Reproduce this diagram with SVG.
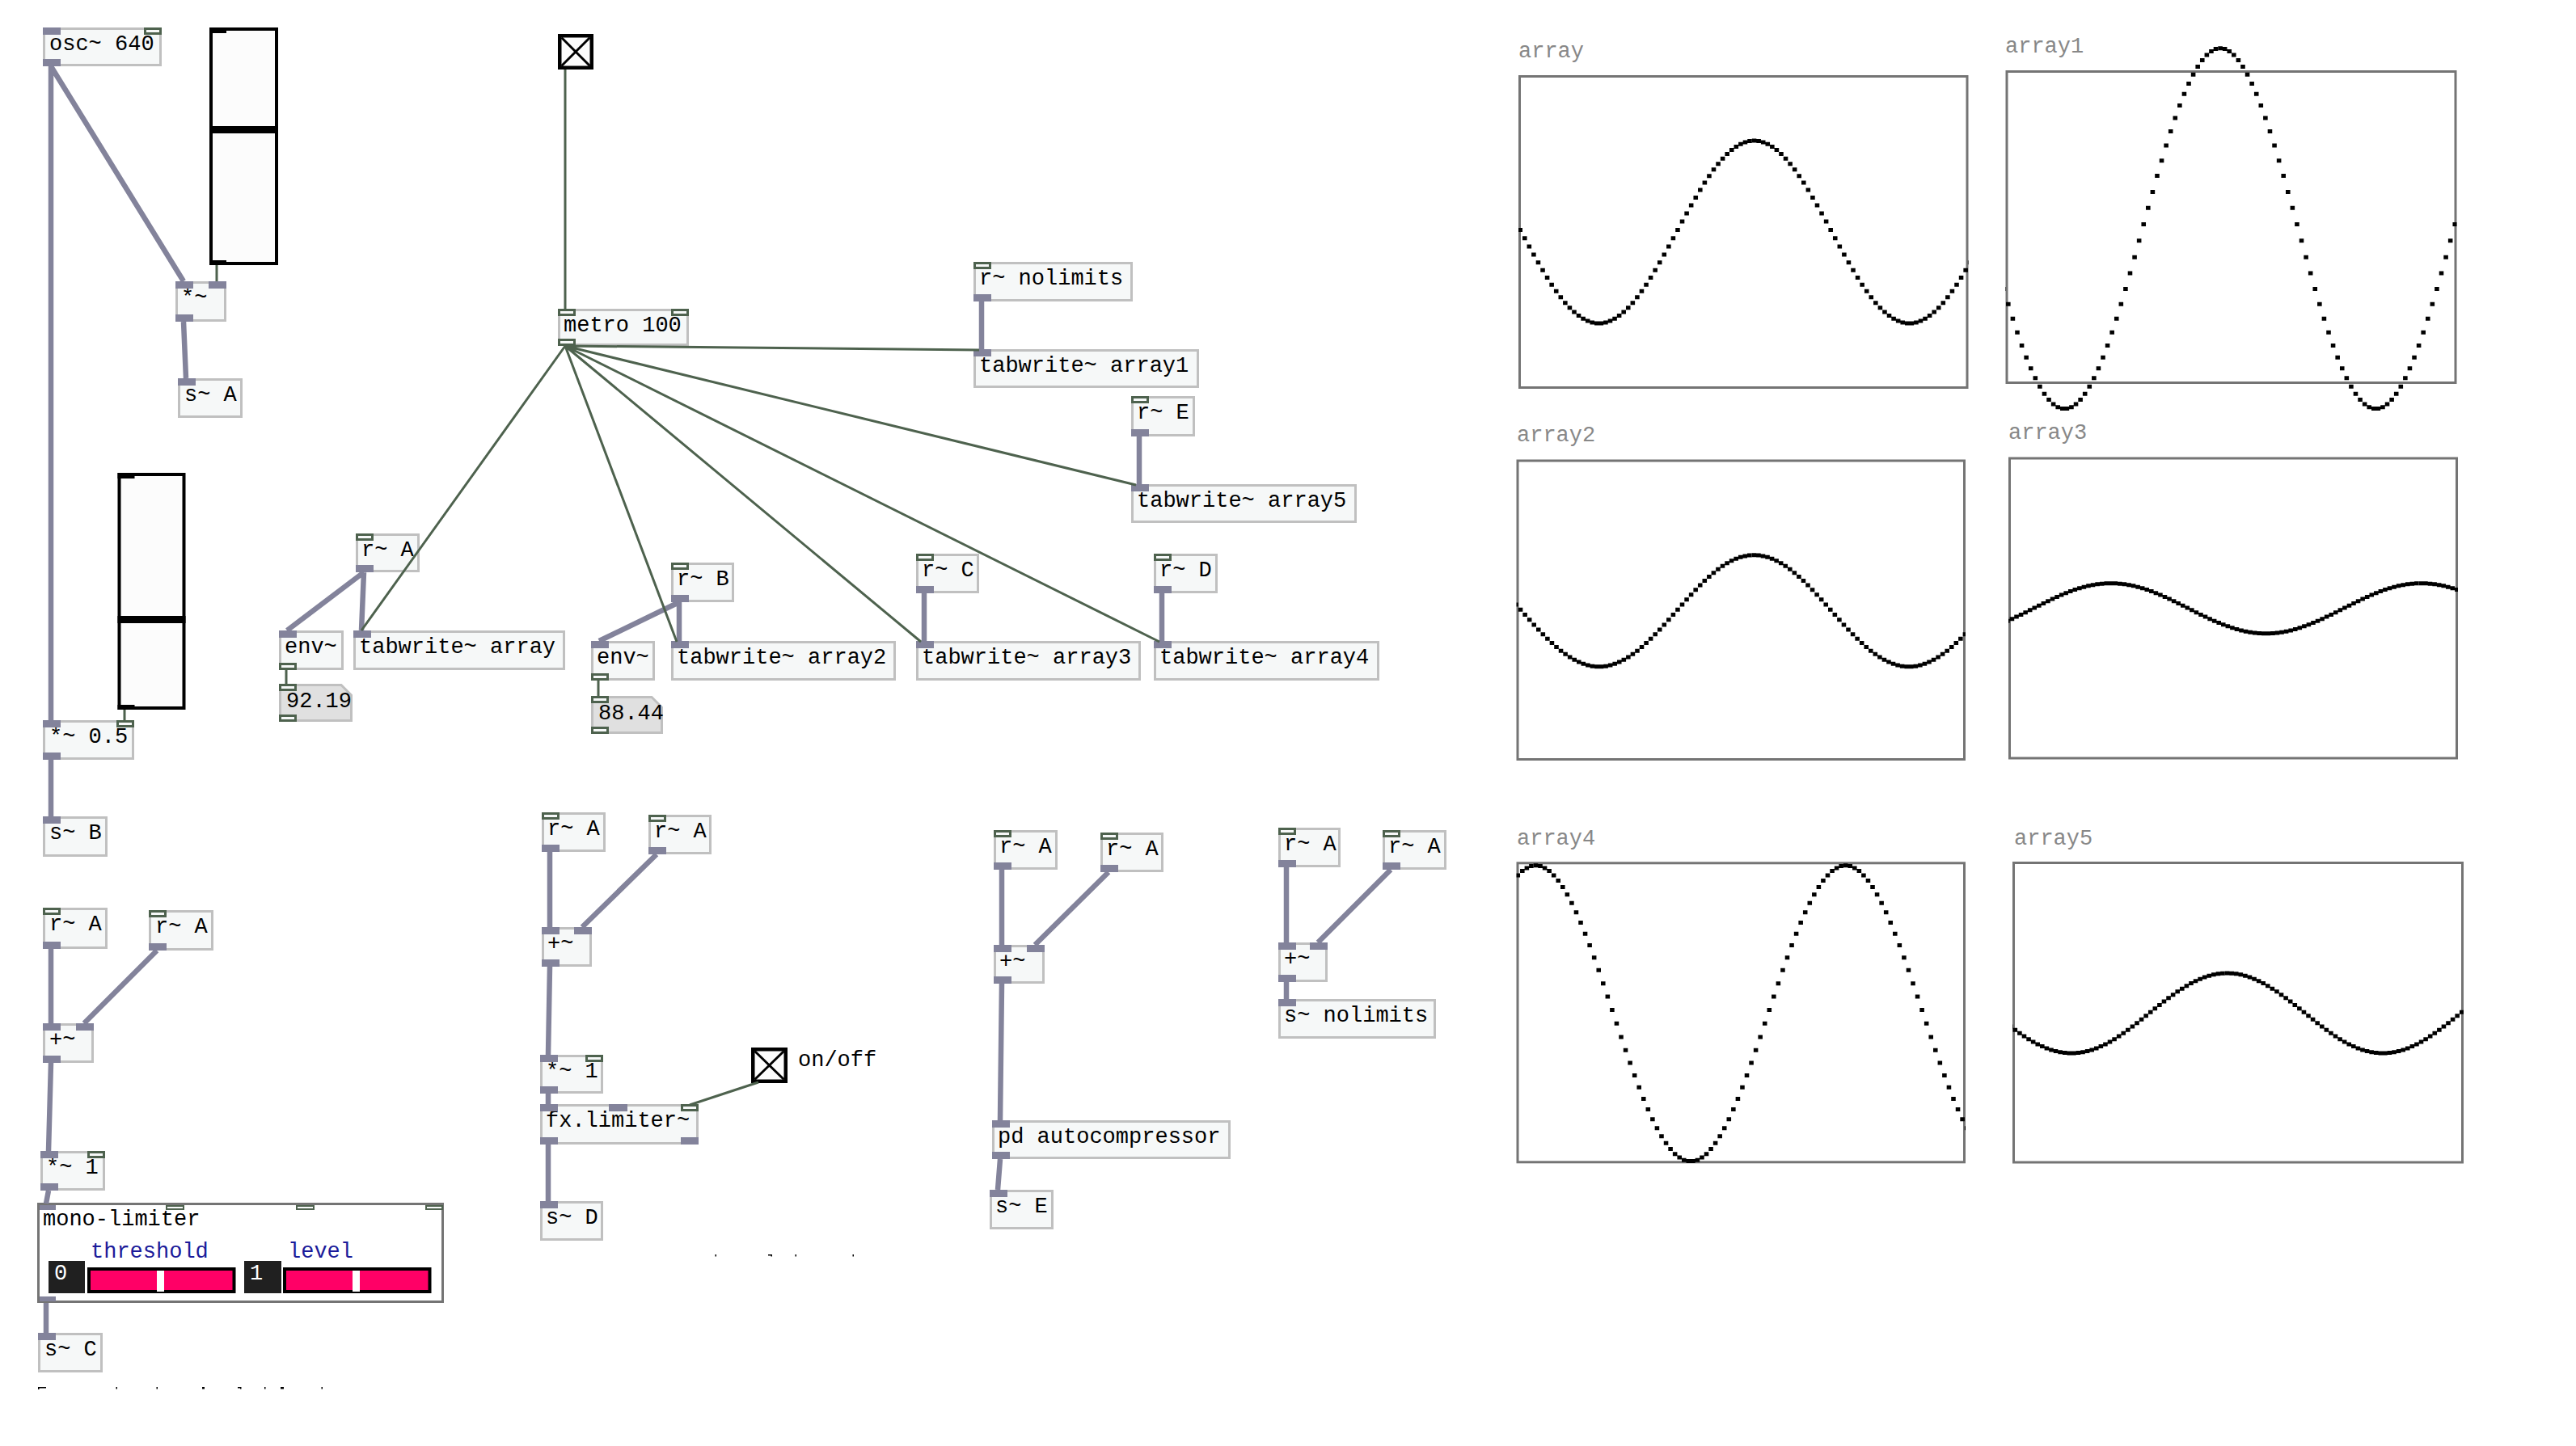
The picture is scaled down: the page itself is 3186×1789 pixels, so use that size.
<svg xmlns="http://www.w3.org/2000/svg" xmlns:xlink="http://www.w3.org/1999/xlink" width="3186" height="1789" viewBox="0 0 3186 1789">
<style>
.b{fill:#f6f8f8;stroke:#c0c0c0;stroke-width:3}
.n{fill:#e0e0e0;stroke:#c0c0c0;stroke-width:3}
.t{font-family:"Liberation Mono","DejaVu Sans Mono",monospace;font-size:27px;fill:#000}
.lb{font-family:"Liberation Mono","DejaVu Sans Mono",monospace;font-size:27px;fill:#888}
.bl{fill:#1b1b9a}
.si{fill:#83839b}
.ci{fill:#f6f8f8;stroke:#4e624e;stroke-width:3}
.sc{stroke:#83839b;stroke-width:6.5;fill:none}
.cc{stroke:#4e624e;stroke-width:3;fill:none}
.sl{fill:#fcfcfc;stroke:#000;stroke-width:4}
.tg{fill:#fcfcfc;stroke:#000;stroke-width:4.5}
.tx{stroke:#000;stroke-width:3}
.gr{fill:#fff;stroke:#747474;stroke-width:3}
.hs{fill:#ff0066;stroke:#000;stroke-width:4}
.wv{fill:none;stroke:#000;stroke-width:5}
</style>
<defs>
<path id="wv" vector-effect="non-scaling-stroke" class="wv" d="M0 1h1M1 .996h1M2 .983h1M3 .963h1M4 .934h1M5 .898h1M6 .854h1M7 .804h1M8 .746h1M9 .683h1M10 .613h1M11 .539h1M12 .46h1M13 .377h1M14 .292h1M15 .203h1M16 .114h1M17 .023h1M18 -.068h1M19 -.159h1M20 -.248h1M21 -.335h1M22 -.419h1M23 -.5h1M24 -.577h1M25 -.649h1M26 -.715h1M27 -.776h1M28 -.83h1M29 -.877h1M30 -.917h1M31 -.95h1M32 -.974h1M33 -.991h1M34 -.999h1M35 -.999h1M36 -.991h1M37 -.974h1M38 -.95h1M39 -.917h1M40 -.877h1M41 -.83h1M42 -.776h1M43 -.715h1M44 -.649h1M45 -.577h1M46 -.5h1M47 -.419h1M48 -.335h1M49 -.248h1M50 -.159h1M51 -.068h1M52 .023h1M53 .114h1M54 .203h1M55 .292h1M56 .377h1M57 .46h1M58 .539h1M59 .613h1M60 .683h1M61 .746h1M62 .804h1M63 .854h1M64 .898h1M65 .934h1M66 .963h1M67 .983h1M68 .996h1"/>
<g id="wv3"><use xlink:href="#wv" x="-69"/><use xlink:href="#wv"/><use xlink:href="#wv" x="69"/></g>
<clipPath id="c0"><rect x="1878" y="0" width="556.5" height="1789"/></clipPath>
<clipPath id="c1"><rect x="2480.5" y="0" width="558" height="1789"/></clipPath>
<clipPath id="c2"><rect x="1875.6" y="0" width="555.4" height="1789"/></clipPath>
<clipPath id="c3"><rect x="2484" y="0" width="556" height="1789"/></clipPath>
<clipPath id="c4"><rect x="1875.6" y="0" width="555.4" height="1789"/></clipPath>
<clipPath id="c5"><rect x="2489" y="0" width="558" height="1789"/></clipPath>
</defs>
<rect width="3186" height="1789" fill="#fff"/>

<g id="nodes">
<g id="osc"><rect class="b" x="54.5" y="35.5" width="144" height="45"/><text class="t" x="61" y="62">osc~ 640</text><rect class="si" x="53" y="34" width="22" height="9"/><rect class="ci" x="179.5" y="35.5" width="19" height="6"/><rect class="si" x="53" y="73" width="22" height="9"/></g>
<g id="slider1"><rect class="sl" x="261" y="36" width="81" height="290"/><rect x="259" y="156" width="85" height="9"/><rect x="259" y="34" width="21" height="7"/><rect x="259" y="322" width="21" height="6"/></g>
<g id="mul1"><rect class="b" x="218.5" y="349.5" width="60" height="47"/><text class="t" x="224" y="376">*~</text><rect class="si" x="217" y="348" width="22" height="9"/><rect class="si" x="258" y="348" width="22" height="9"/><rect class="si" x="217" y="389" width="22" height="9"/></g>
<g id="sA"><rect class="b" x="221.5" y="469.5" width="77" height="46"/><text class="t" x="228" y="496">s~ A</text><rect class="si" x="220" y="468" width="22" height="9"/></g>
<g id="slider2"><rect class="sl" x="147.5" y="587" width="80" height="289"/><rect x="145.5" y="762" width="84" height="9"/><rect x="145.5" y="585" width="21" height="7"/><rect x="145.5" y="872" width="21" height="6"/></g>
<g id="mul05"><rect class="b" x="54.5" y="892.5" width="110" height="46"/><text class="t" x="61" y="919">*~ 0.5</text><rect class="si" x="53" y="891" width="22" height="9"/><rect class="ci" x="145.5" y="892.5" width="19" height="6"/><rect class="si" x="53" y="931" width="22" height="9"/></g>
<g id="sB"><rect class="b" x="54.5" y="1011.5" width="77" height="47"/><text class="t" x="61" y="1038">s~ B</text><rect class="si" x="53" y="1010" width="22" height="9"/></g>
<g id="rA1"><rect class="b" x="54.5" y="1124.5" width="77" height="48"/><text class="t" x="61" y="1151">r~ A</text><rect class="ci" x="54.5" y="1124.5" width="19" height="6"/><rect class="si" x="53" y="1165" width="22" height="9"/></g>
<g id="rA2"><rect class="b" x="185.5" y="1127.5" width="77" height="47"/><text class="t" x="192" y="1154">r~ A</text><rect class="ci" x="185.5" y="1127.5" width="19" height="6"/><rect class="si" x="184" y="1167" width="22" height="9"/></g>
<g id="add1"><rect class="b" x="54.5" y="1267.5" width="60" height="46"/><text class="t" x="61" y="1294">+~</text><rect class="si" x="53" y="1266" width="22" height="9"/><rect class="si" x="94" y="1266" width="22" height="9"/><rect class="si" x="53" y="1306" width="22" height="9"/></g>
<g id="mul1b"><rect class="b" x="51.5" y="1425.5" width="77" height="46"/><text class="t" x="57" y="1452">*~ 1</text><rect class="si" x="50" y="1424" width="22" height="9"/><rect class="ci" x="109.5" y="1425.5" width="19" height="6"/><rect class="si" x="50" y="1464" width="22" height="9"/></g>
<g id="monolimiter"><rect class="gr" x="47.5" y="1489.5" width="500" height="121"/><rect class="si" x="49" y="1491" width="20" height="6"/><rect class="ci" x="206" y="1492" width="21" height="4" style="stroke-width:2"/><rect class="ci" x="367" y="1492" width="21" height="4" style="stroke-width:2"/><rect class="ci" x="527" y="1492" width="20" height="4" style="stroke-width:2"/><rect class="si" x="49" y="1604" width="20" height="6"/>
<text class="t" x="53" y="1516">mono-limiter</text><text class="t bl" x="112" y="1556">threshold</text><text class="t bl" x="356" y="1556">level</text>
<rect x="60" y="1560" width="45" height="40" fill="#202020"/><text class="t" x="67" y="1583" style="fill:#fff">0</text>
<rect class="hs" x="110" y="1570" width="179.5" height="28"/><rect x="194" y="1572" width="9" height="26" fill="#fff"/>
<rect x="302" y="1560" width="46" height="40" fill="#202020"/><text class="t" x="309" y="1583" style="fill:#fff">1</text>
<rect class="hs" x="352" y="1570" width="179.5" height="28"/><rect x="436" y="1572" width="9" height="26" fill="#fff"/></g>
<g id="sC"><rect class="b" x="48.5" y="1650.5" width="77" height="46"/><text class="t" x="55" y="1677">s~ C</text><rect class="si" x="47" y="1649" width="22" height="9"/></g>
<g id="clip1" fill="#000"><rect x="47" y="1716" width="10" height="1.5"/><rect x="47" y="1716" width="1.5" height="3"/><rect x="143.5" y="1716" width="1.5" height="2.5"/><rect x="193.5" y="1716" width="1.5" height="2.5"/><rect x="250" y="1716" width="3" height="2.5"/><rect x="294" y="1716" width="4" height="1.5"/><rect x="297" y="1716" width="1.5" height="2.5"/><rect x="327" y="1716" width="1.5" height="2.5"/><rect x="347" y="1716" width="4" height="2.5"/><rect x="397.5" y="1716" width="1.5" height="2.5"/></g>

<g id="toggle1"><rect class="tg" x="692.25" y="44.25" width="39.5" height="39.5"/><path class="tx" d="M694.5 46.5L729.5 81.5M729.5 46.5L694.5 81.5"/></g>
<g id="metro"><rect class="b" x="691.5" y="383.5" width="159" height="43"/><text class="t" x="697" y="410">metro 100</text><rect class="ci" x="691.5" y="383.5" width="19" height="6"/><rect class="ci" x="831.5" y="383.5" width="19" height="6"/><rect class="ci" x="691.5" y="420.5" width="19" height="6"/></g>
<g id="rA3"><rect class="b" x="441.5" y="661.5" width="76" height="45"/><text class="t" x="447" y="688">r~ A</text><rect class="ci" x="441.5" y="661.5" width="19" height="6"/><rect class="si" x="440" y="699" width="22" height="9"/></g>
<g id="env1"><rect class="b" x="346.5" y="781.5" width="77" height="46"/><text class="t" x="352" y="808">env~</text><rect class="si" x="345" y="780" width="22" height="9"/><rect class="ci" x="346.5" y="821.5" width="19" height="6"/></g>
<g id="tw0"><rect class="b" x="438.5" y="781.5" width="259" height="46"/><text class="t" x="444" y="808">tabwrite~ array</text><rect class="si" x="437" y="780" width="22" height="9"/></g>
<g id="num1"><path class="n" d="M346.5 847.5H422L434.5 860V891.5H346.5Z"/><text class="t" x="354" y="875">92.19</text><rect class="ci" x="346.5" y="847.5" width="19" height="6"/><rect class="ci" x="346.5" y="885.5" width="19" height="6"/></g>
<g id="rB"><rect class="b" x="831.5" y="697.5" width="75" height="46"/><text class="t" x="837" y="724">r~ B</text><rect class="ci" x="831.5" y="697.5" width="19" height="6"/><rect class="si" x="830" y="736" width="22" height="9"/></g>
<g id="env2"><rect class="b" x="732.5" y="794.5" width="76" height="46"/><text class="t" x="738" y="821">env~</text><rect class="si" x="731" y="793" width="22" height="9"/><rect class="ci" x="732.5" y="834.5" width="19" height="6"/></g>
<g id="num2"><path class="n" d="M732.5 862.5H806L818.5 875V906.5H732.5Z"/><text class="t" x="740" y="890">88.44</text><rect class="ci" x="732.5" y="862.5" width="19" height="6"/><rect class="ci" x="732.5" y="900.5" width="19" height="6"/></g>
<g id="tw2"><rect class="b" x="831.5" y="794.5" width="275" height="46"/><text class="t" x="837" y="821">tabwrite~ array2</text><rect class="si" x="830" y="793" width="22" height="9"/></g>
<g id="rC"><rect class="b" x="1134.5" y="686.5" width="75" height="46"/><text class="t" x="1140" y="713">r~ C</text><rect class="ci" x="1134.5" y="686.5" width="19" height="6"/><rect class="si" x="1133" y="725" width="22" height="9"/></g>
<g id="tw3"><rect class="b" x="1134.5" y="794.5" width="275" height="46"/><text class="t" x="1140" y="821">tabwrite~ array3</text><rect class="si" x="1133" y="793" width="22" height="9"/></g>
<g id="rD"><rect class="b" x="1428.5" y="686.5" width="76" height="46"/><text class="t" x="1434" y="713">r~ D</text><rect class="ci" x="1428.5" y="686.5" width="19" height="6"/><rect class="si" x="1427" y="725" width="22" height="9"/></g>
<g id="tw4"><rect class="b" x="1428.5" y="794.5" width="276" height="46"/><text class="t" x="1434" y="821">tabwrite~ array4</text><rect class="si" x="1427" y="793" width="22" height="9"/></g>
<g id="rNL"><rect class="b" x="1205.5" y="325.5" width="194" height="46"/><text class="t" x="1211" y="352">r~ nolimits</text><rect class="ci" x="1205.5" y="325.5" width="19" height="6"/><rect class="si" x="1204" y="364" width="22" height="9"/></g>
<g id="tw1"><rect class="b" x="1205.5" y="433.5" width="276" height="45"/><text class="t" x="1211" y="460">tabwrite~ array1</text><rect class="si" x="1204" y="432" width="22" height="9"/></g>
<g id="rE"><rect class="b" x="1400.5" y="491.5" width="76" height="47"/><text class="t" x="1406" y="518">r~ E</text><rect class="ci" x="1400.5" y="491.5" width="19" height="6"/><rect class="si" x="1399" y="531" width="22" height="9"/></g>
<g id="tw5"><rect class="b" x="1400.5" y="600.5" width="276" height="45"/><text class="t" x="1406" y="627">tabwrite~ array5</text><rect class="si" x="1399" y="599" width="22" height="9"/></g>

<g id="rA4"><rect class="b" x="671.5" y="1006.5" width="76" height="46"/><text class="t" x="677" y="1033">r~ A</text><rect class="ci" x="671.5" y="1006.5" width="19" height="6"/><rect class="si" x="670" y="1045" width="22" height="9"/></g>
<g id="rA5"><rect class="b" x="803.5" y="1009.5" width="75" height="46"/><text class="t" x="809" y="1036">r~ A</text><rect class="ci" x="803.5" y="1009.5" width="19" height="6"/><rect class="si" x="802" y="1048" width="22" height="9"/></g>
<g id="add2"><rect class="b" x="671.5" y="1148.5" width="59" height="46"/><text class="t" x="677" y="1175">+~</text><rect class="si" x="670" y="1147" width="22" height="9"/><rect class="si" x="710" y="1147" width="22" height="9"/><rect class="si" x="670" y="1187" width="22" height="9"/></g>
<g id="mul1c"><rect class="b" x="669.5" y="1306.5" width="75" height="45"/><text class="t" x="675" y="1333">*~ 1</text><rect class="si" x="668" y="1305" width="22" height="9"/><rect class="ci" x="725.5" y="1306.5" width="19" height="6"/><rect class="si" x="668" y="1344" width="22" height="9"/></g>
<g id="toggle2"><rect class="tg" x="931.25" y="1298.25" width="40.5" height="39.5"/><path class="tx" d="M933.5 1300.5L969.5 1335.5M969.5 1300.5L933.5 1335.5"/><text class="t" x="987" y="1319">on/off</text></g>
<g id="fxlim"><rect class="b" x="669.5" y="1367.5" width="193" height="47"/><text class="t" x="675" y="1394">fx.limiter~</text><rect class="si" x="668" y="1366" width="22" height="9"/><rect class="si" x="753" y="1366" width="23" height="9"/><rect class="ci" x="843.5" y="1367.5" width="19" height="6"/><rect class="si" x="668" y="1407" width="22" height="9"/><rect class="si" x="842" y="1407" width="22" height="9"/></g>
<g id="sD"><rect class="b" x="669.5" y="1487.5" width="75" height="46"/><text class="t" x="675" y="1514">s~ D</text><rect class="si" x="668" y="1486" width="22" height="9"/></g>
<g id="clip2" fill="#000"><rect x="884.5" y="1552" width="1.5" height="2.5"/><rect x="950" y="1552" width="5" height="1.5"/><rect x="953.5" y="1552" width="1.5" height="2.5"/><rect x="983.5" y="1552" width="1.5" height="2.5"/><rect x="1054.5" y="1552" width="1.5" height="2.5"/></g>
<g id="rA6"><rect class="b" x="1230.5" y="1028.5" width="76" height="46"/><text class="t" x="1236" y="1055">r~ A</text><rect class="ci" x="1230.5" y="1028.5" width="19" height="6"/><rect class="si" x="1229" y="1067" width="22" height="9"/></g>
<g id="rA7"><rect class="b" x="1362.5" y="1031.5" width="75" height="46"/><text class="t" x="1368" y="1058">r~ A</text><rect class="ci" x="1362.5" y="1031.5" width="19" height="6"/><rect class="si" x="1361" y="1070" width="22" height="9"/></g>
<g id="add3"><rect class="b" x="1230.5" y="1170.5" width="60" height="45"/><text class="t" x="1236" y="1197">+~</text><rect class="si" x="1229" y="1169" width="22" height="9"/><rect class="si" x="1270" y="1169" width="22" height="9"/><rect class="si" x="1229" y="1208" width="22" height="9"/></g>
<g id="pdauto"><rect class="b" x="1228.5" y="1387.5" width="292" height="45"/><text class="t" x="1234" y="1414">pd autocompressor</text><rect class="si" x="1227" y="1386" width="22" height="9"/><rect class="si" x="1227" y="1425" width="22" height="9"/></g>
<g id="sE"><rect class="b" x="1225.5" y="1473.5" width="76" height="46"/><text class="t" x="1231" y="1500">s~ E</text><rect class="si" x="1224" y="1472" width="22" height="9"/></g>
<g id="rA8"><rect class="b" x="1582.5" y="1025.5" width="74" height="46"/><text class="t" x="1588" y="1052">r~ A</text><rect class="ci" x="1582.5" y="1025.5" width="19" height="6"/><rect class="si" x="1581" y="1064" width="22" height="9"/></g>
<g id="rA9"><rect class="b" x="1711.5" y="1028.5" width="76" height="46"/><text class="t" x="1717" y="1055">r~ A</text><rect class="ci" x="1711.5" y="1028.5" width="19" height="6"/><rect class="si" x="1710" y="1067" width="22" height="9"/></g>
<g id="add4"><rect class="b" x="1582.5" y="1167.5" width="58" height="46"/><text class="t" x="1588" y="1194">+~</text><rect class="si" x="1581" y="1166" width="22" height="9"/><rect class="si" x="1620" y="1166" width="22" height="9"/><rect class="si" x="1581" y="1206" width="22" height="9"/></g>
<g id="sNL"><rect class="b" x="1582.5" y="1237.5" width="192" height="46"/><text class="t" x="1588" y="1264">s~ nolimits</text><rect class="si" x="1581" y="1236" width="22" height="9"/></g>

<g id="array"><text class="lb" x="1878" y="71">array</text><rect class="gr" x="1879.5" y="94.5" width="553.5" height="385"/><g clip-path="url(#c0)"><use xlink:href="#wv3" transform="translate(2166.8 287) scale(5.565 -113)"/></g></g>
<g id="array1"><text class="lb" x="2480" y="65">array1</text><rect class="gr" x="2482" y="88.5" width="555" height="385"/><g clip-path="url(#c1)"><use xlink:href="#wv3" transform="translate(2743.3 282.7) scale(5.58 -223)"/></g></g>
<g id="array2"><text class="lb" x="1876" y="546">array2</text><rect class="gr" x="1877" y="570" width="552.5" height="369.5"/><g clip-path="url(#c2)"><use xlink:href="#wv3" transform="translate(2166.6 755.8) scale(5.554 -69)"/></g></g>
<g id="array3"><text class="lb" x="2484" y="543">array3</text><rect class="gr" x="2485.5" y="567" width="553" height="371"/><g clip-path="url(#c3)"><use xlink:href="#wv3" transform="translate(2608 752.7) scale(5.56 -31)"/></g></g>
<g id="array4"><text class="lb" x="1876" y="1045">array4</text><rect class="gr" x="1877" y="1067.8" width="552.5" height="370"/><g clip-path="url(#c4)"><use xlink:href="#wv3" transform="translate(1896.7 1253.8) scale(5.554 -183)"/></g></g>
<g id="array5"><text class="lb" x="2491" y="1045">array5</text><rect class="gr" x="2490.5" y="1067.5" width="555" height="370.5"/><g clip-path="url(#c5)"><use xlink:href="#wv3" transform="translate(2751.8 1253.5) scale(5.58 -49.5)"/></g></g>
</g>

<g id="connectors">
<path class="sc" d="M63 82L227 348M63 82V891M227 398L230 468M63 940V1010M63 1174V1266M194 1176L104 1266M63 1315L60 1424M60 1473L57 1489M57 1612V1649"/>
<path class="sc" d="M450 708L355 780M450 708L447 780M840 745L741 793M840 745V793M1143 734V793M1437 734V793M1214 373V432M1409 540V599"/>
<path class="sc" d="M680 1054V1147M812 1057L720 1147M680 1196L678 1305M678 1353V1366M678 1416V1486M1239 1076V1169M1371 1079L1280 1169M1239 1217L1237 1386M1237 1434L1234 1472M1591 1073V1166M1720 1076L1630 1166M1591 1215V1236"/>
<path class="cc" d="M268 328V348M154 878V891M699 86V382M699 428L447 780M699 428L1211 433M699 428L1405 600M699 428L1434 794M699 428L1139 794M699 428L837 794M354 829V846M740 842V861M938 1339L853 1367"/>
</g>
</svg>
